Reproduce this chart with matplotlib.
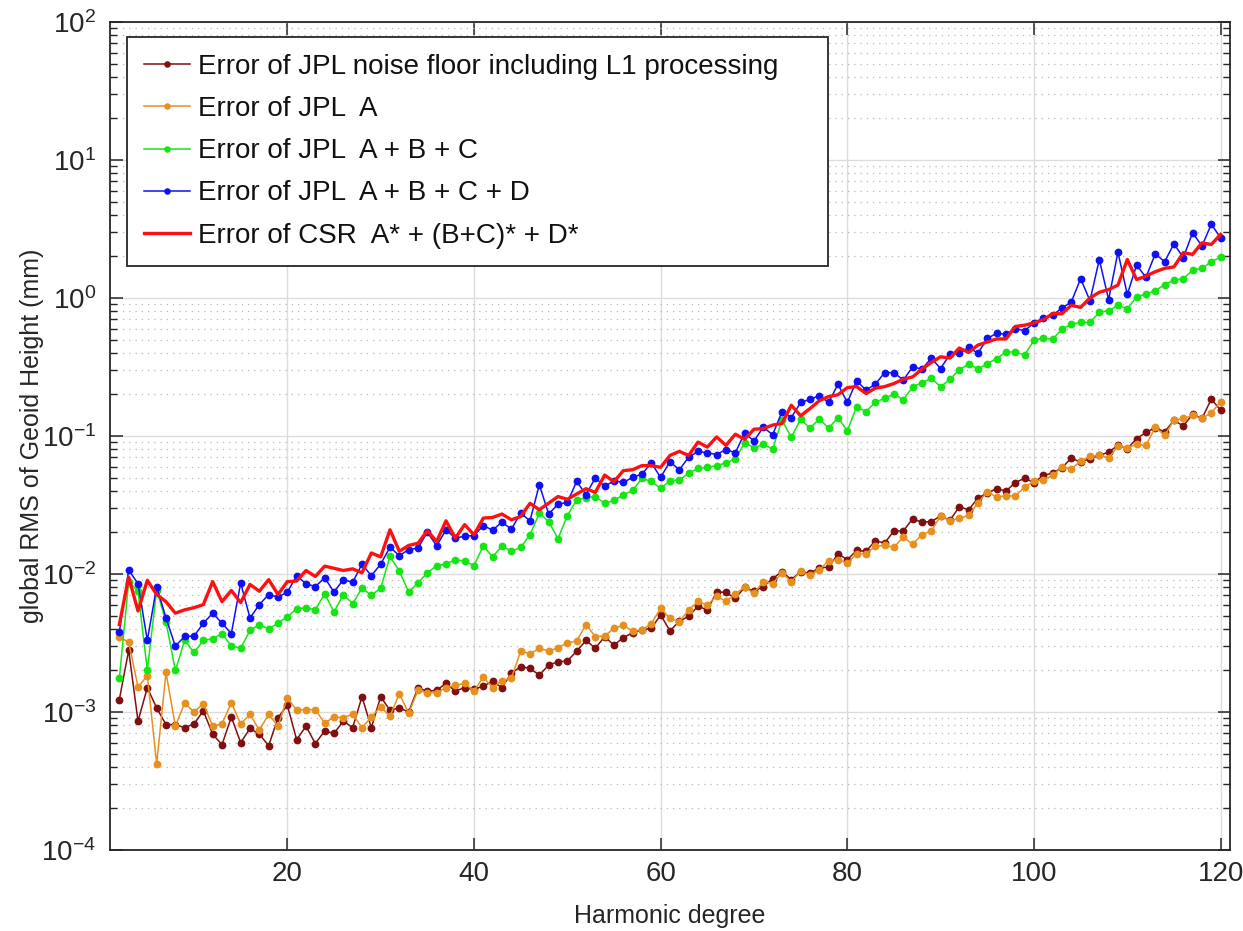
import numpy as np
import matplotlib
matplotlib.use("Agg")
import matplotlib.pyplot as plt
from matplotlib.ticker import LogLocator, FixedLocator, NullFormatter

# Spherical harmonic degrees shown on the x axis
degrees = np.arange(2, 121)

# Degree RMS of geoid height errors (mm)
noise_floor = [
    0.00123, 0.0028, 0.00086, 0.0015, 0.00107, 0.00081, 0.00081, 0.00077, 0.00082, 0.00102,
    0.00069, 0.00058, 0.00092, 0.00060, 0.00076, 0.00069, 0.00057, 0.00091, 0.00112, 0.00063,
    0.00079, 0.00059, 0.00073, 0.00070, 0.00086, 0.00077, 0.00129, 0.00077, 0.00129, 0.00103,
    0.00107, 0.00100, 0.00150, 0.00141, 0.00144, 0.00161, 0.00142, 0.00150, 0.00146, 0.00154,
    0.00167, 0.00150, 0.00191, 0.00213, 0.00207, 0.00185, 0.00219, 0.00231, 0.00234, 0.00276,
    0.00330, 0.00290, 0.00351, 0.00305, 0.00346, 0.00375, 0.00393, 0.00404, 0.00505, 0.00387,
    0.00455, 0.00493, 0.00584, 0.00549, 0.00738, 0.00738, 0.00666, 0.00800, 0.00750, 0.00810,
    0.00927, 0.0104, 0.0091, 0.0104, 0.0101, 0.0111, 0.0112, 0.0140, 0.0127, 0.0148,
    0.0146, 0.0174, 0.0168, 0.0205, 0.0205, 0.0251, 0.0237, 0.0240, 0.0263, 0.0245,
    0.0307, 0.0292, 0.0355, 0.0386, 0.0416, 0.0399, 0.0460, 0.0494, 0.0460, 0.0518,
    0.0538, 0.0588, 0.0691, 0.0647, 0.0684, 0.0723, 0.0764, 0.0855, 0.0809, 0.0957,
    0.106, 0.115, 0.107, 0.130, 0.118, 0.144, 0.134, 0.185, 0.154,
]

jpl_a = [
    0.0035, 0.0032, 0.00152, 0.00183, 0.00042, 0.00194, 0.00079, 0.00116, 0.00100, 0.00115,
    0.00079, 0.00082, 0.00117, 0.00082, 0.00096, 0.00074, 0.00096, 0.00079, 0.00127, 0.00103,
    0.00104, 0.00104, 0.00083, 0.00092, 0.00091, 0.00096, 0.00077, 0.00092, 0.00109, 0.00093,
    0.00136, 0.00098, 0.00144, 0.00138, 0.00138, 0.00150, 0.00156, 0.00161, 0.00142, 0.00179,
    0.00150, 0.00169, 0.00175, 0.00276, 0.00264, 0.00289, 0.00276, 0.00292, 0.00317, 0.00326,
    0.00430, 0.00352, 0.00355, 0.00405, 0.00425, 0.00385, 0.00395, 0.00435, 0.00566, 0.00476,
    0.00452, 0.00548, 0.00633, 0.00595, 0.00690, 0.00633, 0.00715, 0.00805, 0.00725, 0.00882,
    0.00852, 0.0102, 0.00877, 0.0105, 0.00980, 0.0107, 0.0125, 0.0127, 0.0120, 0.0140,
    0.0140, 0.0159, 0.0161, 0.0156, 0.0186, 0.0164, 0.0193, 0.0205, 0.0264, 0.0243,
    0.0253, 0.0266, 0.0328, 0.0395, 0.0360, 0.0370, 0.0367, 0.0427, 0.0468, 0.0481,
    0.0518, 0.0594, 0.0578, 0.0658, 0.0711, 0.0723, 0.0695, 0.0841, 0.0822, 0.0869,
    0.0855, 0.116, 0.101, 0.130, 0.134, 0.141, 0.134, 0.147, 0.177,
]

jpl_abc = [
    0.00175, 0.0088, 0.0075, 0.0020, 0.0077, 0.0045, 0.0020, 0.0033, 0.0027, 0.0033,
    0.0034, 0.0037, 0.0030, 0.0029, 0.0039, 0.0043, 0.0040, 0.0044, 0.0049, 0.0056,
    0.0057, 0.0055, 0.0072, 0.0053, 0.0071, 0.0061, 0.0079, 0.0070, 0.0079, 0.0134,
    0.0105, 0.0074, 0.0086, 0.0102, 0.0115, 0.0118, 0.0127, 0.0124, 0.0115, 0.0160,
    0.0133, 0.0160, 0.0146, 0.0156, 0.0192, 0.0276, 0.0240, 0.0180, 0.0265, 0.0344,
    0.0358, 0.0364, 0.0325, 0.0342, 0.0374, 0.0404, 0.0493, 0.0469, 0.0417, 0.0474,
    0.0482, 0.0536, 0.0583, 0.0593, 0.0610, 0.0638, 0.0682, 0.0893, 0.0822, 0.0869,
    0.0807, 0.130, 0.098, 0.132, 0.114, 0.133, 0.114, 0.136, 0.109, 0.163,
    0.150, 0.175, 0.188, 0.201, 0.183, 0.227, 0.244, 0.262, 0.227, 0.258,
    0.302, 0.332, 0.307, 0.335, 0.363, 0.407, 0.406, 0.387, 0.494, 0.511,
    0.503, 0.594, 0.647, 0.665, 0.665, 0.787, 0.809, 0.884, 0.836, 1.02,
    1.07, 1.13, 1.25, 1.35, 1.38, 1.59, 1.64, 1.83, 1.98,
]

jpl_abcd = [
    0.0038, 0.0107, 0.0085, 0.0033, 0.0081, 0.0048, 0.0030, 0.00354, 0.00354, 0.0044,
    0.0052, 0.0044, 0.0037, 0.0086, 0.0048, 0.0060, 0.0071, 0.0068, 0.0074, 0.0097,
    0.0085, 0.0081, 0.0094, 0.0074, 0.0091, 0.0087, 0.0118, 0.0097, 0.0118, 0.0156,
    0.0136, 0.0150, 0.0154, 0.0201, 0.0160, 0.0209, 0.0182, 0.0188, 0.0190, 0.0224,
    0.0208, 0.0238, 0.0211, 0.0276, 0.0243, 0.0443, 0.0272, 0.0321, 0.0330, 0.0468,
    0.0376, 0.0497, 0.0431, 0.0474, 0.0461, 0.0501, 0.0530, 0.0638, 0.0501, 0.0653,
    0.0568, 0.0702, 0.0773, 0.0755, 0.0734, 0.0798, 0.0755, 0.105, 0.0919, 0.116,
    0.102, 0.150, 0.136, 0.175, 0.184, 0.196, 0.175, 0.237, 0.175, 0.251,
    0.215, 0.237, 0.288, 0.288, 0.254, 0.317, 0.305, 0.367, 0.308, 0.392,
    0.398, 0.438, 0.398, 0.509, 0.555, 0.545, 0.600, 0.579, 0.660, 0.715,
    0.748, 0.846, 0.935, 1.38, 0.956, 1.90, 0.972, 2.15, 1.06, 1.73,
    1.41, 2.09, 1.83, 2.47, 1.96, 2.97, 2.38, 3.42, 2.73,
]

csr_total = [
    0.0043, 0.0095, 0.0054, 0.0090, 0.0071, 0.0063, 0.0052, 0.0055, 0.0057, 0.0060,
    0.0088, 0.0063, 0.0076, 0.0062, 0.0084, 0.0075, 0.0091, 0.0071, 0.0088, 0.0089,
    0.0106, 0.0096, 0.0114, 0.0110, 0.0106, 0.0109, 0.0102, 0.0142, 0.0133, 0.0209,
    0.0146, 0.0161, 0.0167, 0.0206, 0.0172, 0.0243, 0.0182, 0.0228, 0.0192, 0.0254,
    0.0257, 0.0272, 0.0247, 0.0261, 0.0325, 0.0292, 0.0326, 0.0364, 0.0348, 0.0380,
    0.0415, 0.0390, 0.0521, 0.0466, 0.0561, 0.0570, 0.0610, 0.0610, 0.0593, 0.0723,
    0.0773, 0.0723, 0.0903, 0.0831, 0.0984, 0.0855, 0.103, 0.0946, 0.112, 0.113,
    0.120, 0.123, 0.167, 0.140, 0.158, 0.180, 0.193, 0.199, 0.224, 0.228,
    0.203, 0.222, 0.228, 0.240, 0.258, 0.268, 0.305, 0.341, 0.375, 0.367,
    0.434, 0.403, 0.456, 0.480, 0.505, 0.505, 0.622, 0.635, 0.660, 0.695,
    0.769, 0.769, 0.885, 0.855, 1.00, 1.10, 1.15, 1.24, 1.90, 1.36,
    1.44, 1.55, 1.64, 1.68, 2.13, 2.07, 2.51, 2.44, 2.89,
]

labels = [
    "Error of JPL noise floor including L1 processing",
    "Error of JPL  A",
    "Error of JPL  A + B + C",
    "Error of JPL  A + B + C + D",
    "Error of CSR  A* + (B+C)* + D*",
]

x_ticks = [20, 40, 60, 80, 100, 120]

ink = "#262626"
plt.rcParams["font.family"] = ["Liberation Sans", "DejaVu Sans"]
plt.rcParams["mathtext.fontset"] = "custom"
plt.rcParams["mathtext.rm"] = "Liberation Sans"
plt.rcParams["mathtext.it"] = "Liberation Sans:italic"
plt.rcParams["mathtext.bf"] = "Liberation Sans:bold"

fig = plt.figure(figsize=(12.43, 9.31), dpi=100)
ax = fig.add_axes([0.0885, 0.087, 0.901, 0.8894])

ms = 4.6
ax.plot(degrees, noise_floor, "-o", color="#801010", lw=1.1, ms=ms, label=labels[0], zorder=3)
ax.plot(degrees, jpl_a, "-o", color="#E8901E", lw=1.1, ms=ms, label=labels[1], zorder=3)
ax.plot(degrees, jpl_abc, "-o", color="#14E614", lw=1.1, ms=ms, label=labels[2], zorder=3)
ax.plot(degrees, jpl_abcd, "-o", color="#1010F5", lw=1.1, ms=ms, label=labels[3], zorder=3)
ax.plot(degrees, csr_total, "-", color="#FF1010", lw=2.4, label=labels[4], zorder=4)

ax.set_yscale("log")
ax.set_xlim(1, 121)
ax.set_ylim(1e-4, 1e2)
ax.xaxis.set_major_locator(FixedLocator(x_ticks))
ax.yaxis.set_major_locator(LogLocator(base=10, numticks=20))
ax.yaxis.set_minor_locator(LogLocator(base=10, subs=np.arange(2, 10), numticks=20))
ax.yaxis.set_minor_formatter(NullFormatter())

ax.grid(True, which="major", axis="both", color="#dcdcdc", lw=1.0, ls="-")
ax.grid(True, which="minor", axis="y", color="#b8b8b8", lw=0.9, ls=(0, (1, 4)))
ax.set_axisbelow(True)

ax.tick_params(which="both", direction="in", top=True, right=True, colors=ink,
               labelsize=20)
ax.tick_params(axis="x", pad=8)
ax.tick_params(axis="y", pad=10)
ax.tick_params(which="major", length=9, width=1.1)
ax.tick_params(which="minor", length=5, width=1.0)
for sp in ax.spines.values():
    sp.set_color(ink)
    sp.set_linewidth(1.3)

ax.set_xlabel("Harmonic degree", fontsize=18, color=ink, labelpad=12)
ax.set_ylabel("global RMS of Geoid Height (mm)", fontsize=18, color=ink, labelpad=-2)

leg = ax.legend(loc="upper left", bbox_to_anchor=(0.0152, 0.700, 0.626, 0.282),
                mode="expand", fontsize=20, handlelength=1.65, handletextpad=0.3,
                labelspacing=0.58, borderpad=0.62, borderaxespad=0.0,
                fancybox=False, framealpha=1.0, edgecolor=ink, markerscale=0.8)
leg.get_frame().set_linewidth(1.3)
for t in leg.get_texts():
    t.set_color("#111111")

fig.savefig("out.png", dpi=100)
